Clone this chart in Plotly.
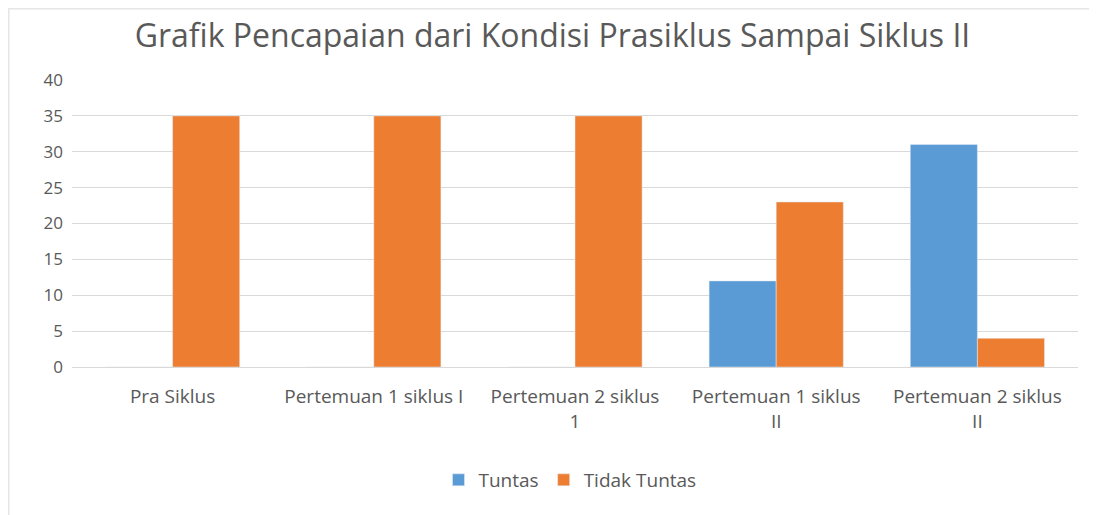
import plotly.graph_objects as go

categories = ["Pra Siklus", "Pertemuan 1 siklus I", "Pertemuan 2 siklus 1",
              "Pertemuan 1 siklus II", "Pertemuan 2 siklus II"]
tick_labels = ["Pra Siklus", "Pertemuan 1 siklus I", "Pertemuan 2 siklus<br>1",
               "Pertemuan 1 siklus<br>II", "Pertemuan 2 siklus<br>II"]
tuntas = [0, 0, 0, 12, 31]
tidak_tuntas = [35, 35, 35, 23, 4]
y_ticks = [0, 5, 10, 15, 20, 25, 30, 35, 40]

FONT = "Open Sans"
GREY = "#595959"

fig = go.Figure()
fig.add_trace(go.Bar(x=categories, y=tuntas, name="Tuntas", marker_color="#5B9BD5"))
fig.add_trace(go.Bar(x=categories, y=tidak_tuntas, name="Tidak Tuntas", marker_color="#ED7D31"))

# page body has an 8px margin, so figure coords = reference coords - 8
W, H = 1089, 507
L, R, T, B = 64, 19, 72, 148
pw, ph = W - L - R, H - T - B

def px_x(x):
    return (x - L) / pw

def px_y(y):
    return (H - B - y) / ph

fig.update_layout(
    width=W, height=H,
    margin=dict(l=L, r=R, t=T, b=B),
    paper_bgcolor="white", plot_bgcolor="white",
    barmode="group", bargap=0.333, bargroupgap=0,
    font=dict(family=FONT, color=GREY, size=17),
    title=dict(text="Grafik Pencapaian dari Kondisi Prasiklus Sampai Siklus II",
               x=0.5, xanchor="center", y=1 - 28 / H, yanchor="middle",
               font=dict(size=32, color=GREY, family=FONT)),
    xaxis=dict(tickmode="array", tickvals=categories, ticktext=tick_labels,
               showgrid=False, showline=True, linecolor="#d9d9d9", linewidth=1,
               ticks="", tickfont=dict(size=19, color=GREY), fixedrange=True,
               ticklabelstandoff=12),
    yaxis=dict(range=[0, 40], tickmode="array", tickvals=y_ticks,
               showgrid=True, gridcolor="#d9d9d9", gridwidth=1,
               zeroline=False, showline=False, ticks="",
               tickfont=dict(size=17, color=GREY), ticklabelstandoff=8),
    legend=dict(orientation="h", x=px_x(562), xanchor="center",
                y=px_y(472), yanchor="middle",
                font=dict(size=19, color=GREY), itemwidth=30,
                traceorder="normal"),
    showlegend=True,
    shapes=[
        dict(type="line", xref="paper", yref="paper",
             x0=px_x(0), x1=px_x(W), y0=px_y(0.75), y1=px_y(0.75),
             line=dict(color="#e6e6e6", width=1.5)),
        dict(type="line", xref="paper", yref="paper",
             x0=px_x(0.75), x1=px_x(0.75), y0=px_y(0), y1=px_y(H),
             line=dict(color="#e6e6e6", width=1.5)),
    ],
)

fig.write_html("out.html")
